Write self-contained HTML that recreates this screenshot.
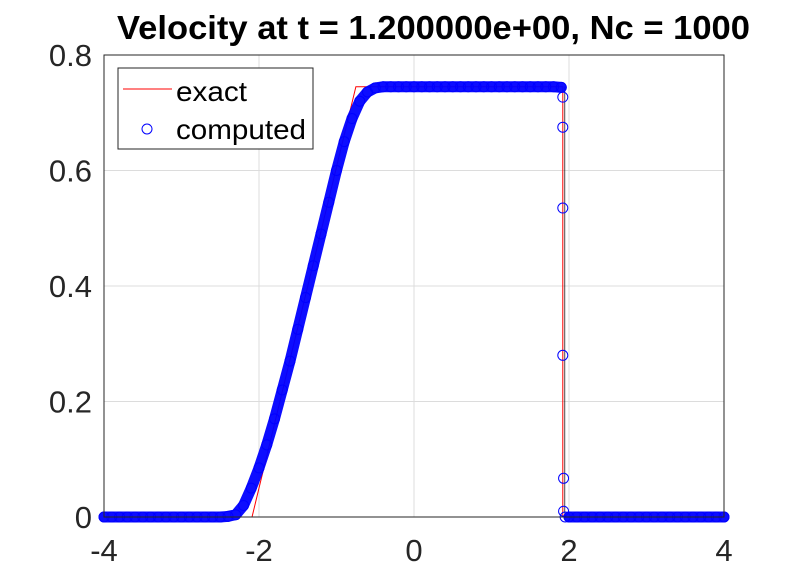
<!DOCTYPE html>
<html><head><meta charset="utf-8"><style>
body{margin:0;background:#fff;}
svg{display:block;font-family:"Liberation Sans",Arial,sans-serif;}
</style></head><body>
<svg id="chart" width="798" height="581">
<rect width="798" height="581" fill="#fff"/>
<g id="grid"></g>
<g id="series"></g>
<rect x="104" y="55" width="620" height="462" fill="none" stroke="#262626" stroke-width="1"/>
<g id="ticks"></g>
<text x="117" y="39" textLength="633" lengthAdjust="spacingAndGlyphs" font-size="33" font-weight="bold" fill="#000">Velocity at t = 1.200000e+00, Nc = 1000</text>
<g>
<rect x="118" y="68" width="195" height="81" fill="#fff" stroke="#262626"/>
<line x1="123" y1="89" x2="172" y2="89" stroke="#ff0000" stroke-width="1"/>
<text x="176" y="101" font-size="28" textLength="71" lengthAdjust="spacingAndGlyphs" fill="#000">exact</text>
<circle cx="147" cy="129" r="5" fill="none" stroke="#0000ff"/>
<text x="176" y="139" font-size="28" textLength="130" lengthAdjust="spacingAndGlyphs" fill="#000">computed</text>
</g>
</svg>
<script>
const xTicks=[-4,-2,0,2,4];
const yTicks=[0,0.2,0.4,0.6,0.8];
const yTickLabels=["0","0.2","0.4","0.6","0.8"];
const exactX=[-4,-2.09,-0.75,1.92,1.92,4];
const exactY=[0,0,0.745,0.745,0,0];
const compX=[-4,-3.9,-3.8,-3.7,-3.6,-3.5,-3.4,-3.3,-3.2,-3.1,-3,-2.9,-2.8,-2.7,-2.6,-2.5,-2.4,-2.3,-2.2,-2.1,-2,-1.9,-1.8,-1.7,-1.6,-1.5,-1.4,-1.3,-1.2,-1.1,-1,-0.9,-0.8,-0.7,-0.6,-0.5,-0.4,-0.3,-0.2,-0.1,0,0.1,0.2,0.3,0.4,0.5,0.6,0.7,0.8,0.9,1,1.1,1.2,1.3,1.4,1.5,1.6,1.7,1.8,1.9,1.92,1.92,1.92,1.92,1.93,1.93,1.95,2,2.1,2.2,2.3,2.4,2.5,2.6,2.7,2.8,2.9,3,3.1,3.2,3.3,3.4,3.5,3.6,3.7,3.8,3.9,4];
const compY=[0,0,0,0,0,0,0,0,0,0,0,0,0,0,0,0,0.001,0.004,0.02,0.05,0.085,0.125,0.17,0.22,0.27,0.325,0.38,0.435,0.49,0.545,0.6,0.65,0.69,0.72,0.736,0.743,0.745,0.745,0.745,0.745,0.745,0.745,0.745,0.745,0.745,0.745,0.745,0.745,0.745,0.745,0.745,0.745,0.745,0.745,0.745,0.745,0.745,0.745,0.745,0.744,0.727,0.675,0.535,0.28,0.067,0.01,0,0,0,0,0,0,0,0,0,0,0,0,0,0,0,0,0,0,0,0,0,0];
const NS="http://www.w3.org/2000/svg";
const sx=v=>414+v*77.5, sy=v=>517-v*577.5;
const grid=document.getElementById('grid'),ticks=document.getElementById('ticks'),ser=document.getElementById('series');
function mk(tag,attrs,parent){const e=document.createElementNS(NS,tag);for(const k in attrs)e.setAttribute(k,attrs[k]);parent.appendChild(e);return e;}
xTicks.forEach(t=>{
 const g=mk('line',{x1:sx(t),x2:sx(t),y1:55,y2:517,stroke:'#dcdcdc'},grid);
 
 
 const l=mk('text',{x:sx(t),y:561,'text-anchor':'middle','font-size':31,fill:'#262626'},ticks);
 l.textContent=String(t);
 
 
});
yTicks.forEach((t,i)=>{
 const g=mk('line',{x1:104,x2:724,y1:sy(t),y2:sy(t),stroke:'#dcdcdc'},grid);
 
 
 const l=mk('text',{x:92,y:sy(t)+11,'text-anchor':'end','font-size':31,fill:'#262626'},ticks);
 l.textContent=yTickLabels[i];
 
 
});
const ep=mk('polyline',{points:exactX.map((x,i)=>sx(x)+','+sy(exactY[i])).join(' '),fill:'none',stroke:'#ff0000','stroke-width':1},ser);


const bl=mk('line',{x1:sx(exactX[3])+2,x2:sx(exactX[3])+2,y1:sy(0.745),y2:sy(0),stroke:'#000','stroke-width':0.7},ser);


const band=[];compX.forEach((x,i)=>{if(!(x>1.9&&x<1.96))band.push([x,compY[i]]);});
const segs=[band.filter(p=>p[0]<=1.9),band.filter(p=>p[0]>=1.95)];
segs.forEach(s=>{
 const b=mk('polyline',{points:s.map(p=>sx(p[0])+','+sy(p[1])).join(' '),fill:'none',stroke:'#0000ff','stroke-width':11,'stroke-linejoin':'round','stroke-linecap':'round','stroke-opacity':0.95},ser);
 
 
});
compX.forEach((x,i)=>{
 const c=mk('circle',{cx:sx(x),cy:sy(compY[i]),r:5,fill:'none',stroke:'#0000ff','stroke-width':1},ser);
 
 
});
</script>
</body></html>
